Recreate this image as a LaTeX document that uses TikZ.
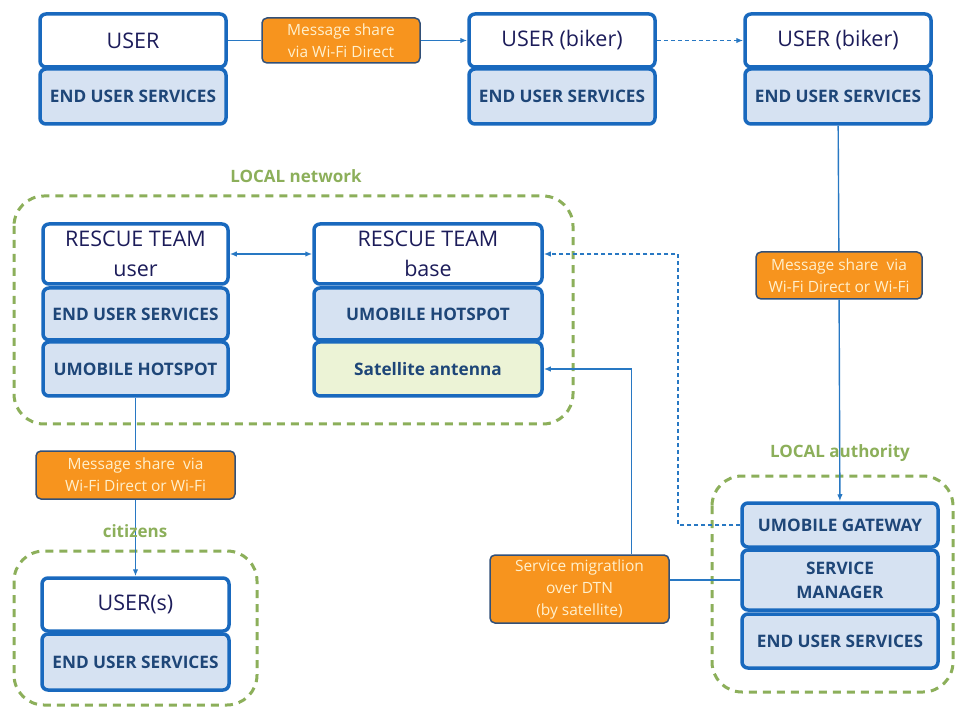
\documentclass[tikz,border=0pt]{standalone}
\usepackage{fontspec}
\setmainfont{Open Sans}
\usetikzlibrary{arrows.meta,positioning}
\definecolor{umblue}{RGB}{25,105,190}
\definecolor{umlink}{RGB}{40,120,195}
\definecolor{umnavy}{RGB}{28,28,90}
\definecolor{umtext}{RGB}{30,70,120}
\definecolor{softblue}{RGB}{214,226,242}
\definecolor{softlime}{RGB}{236,243,214}
\definecolor{umorange}{RGB}{247,148,30}
\definecolor{msgedge}{RGB}{50,80,120}
\definecolor{msgtext}{RGB}{255,240,205}
\definecolor{zonegreen}{RGB}{140,175,90}
\tikzset{
  >={Latex[length=7pt,width=5.5pt]},
  link/.style={->, line width=1.4pt, draw=umlink},
  dotlink/.style={link, line width=1.7pt, dash pattern=on 4pt off 3pt},
  box/.style={
    draw=umblue,
    line width=3.5pt,
    rounded corners=6pt,
    fill=white,
    align=center,
    inner sep=2pt,
    text=umnavy,
    font=\fontsize{21.5}{30}\selectfont
  },
  servbox/.style={box, fill=softblue, text=umtext, font=\bfseries\fontsize{17.2}{24}\selectfont},
  satbox/.style={servbox, fill=softlime},
  msgbox/.style={
    draw=msgedge,
    line width=1.5pt,
    rounded corners=5pt,
    fill=umorange,
    text=msgtext,
    align=center,
    inner sep=2pt,
    font=\fontsize{15.5}{22}\selectfont
  },
  zone/.style={draw=zonegreen, line width=3pt, dash pattern=on 8pt off 6pt, rounded corners=30pt},
  zonelabel/.style={text=zonegreen, font=\bfseries\fontsize{17}{20}\selectfont}
}

\begin{document}
\begin{tikzpicture}[x=1pt,y=-1pt]
\useasboundingbox (0,0) rectangle (956,708);
\draw[zone] (14,196) rectangle (573,424);
\draw[zone] (14,551) rectangle (257,705);
\draw[zone] (712,476) rectangle (953,692);
\foreach \n/\x/\t in {a/133/USER, b/562/USER (biker), c/838/USER (biker)}{
\node[box,minimum width=186pt,minimum height=53pt] (user\n) at (\x,40.5) {\t};
\node[servbox,minimum width=186pt,minimum height=55pt] (eus\n) at (\x,96.5) {END USER SERVICES};
}
\node[msgbox,minimum width=158pt,minimum height=45pt] (msgdirect) at (341,40.5) {Message share\\via Wi-Fi Direct};
\node[msgbox,minimum width=166pt,minimum height=47pt] (msgright) at (839,275.5) {Message share\ \ via\\Wi-Fi Direct or Wi-Fi};
\node[box,minimum width=185pt,minimum height=60pt] (rtuser) at (135.5,254) {RESCUE TEAM\\user};
\node[servbox,minimum width=185pt,minimum height=52pt] (rtueus) at (135.5,314) {END USER SERVICES};
\node[servbox,minimum width=185pt,minimum height=54pt] (rtuhot) at (135.5,369) {UMOBILE HOTSPOT};
\node[box,minimum width=228pt,minimum height=60pt] (rtbase) at (428,254) {RESCUE TEAM\\base};
\node[servbox,minimum width=228pt,minimum height=52pt] (rtbhot) at (428,314) {UMOBILE HOTSPOT};
\node[satbox,minimum width=228pt,minimum height=54pt] (sat) at (428,369) {Satellite antenna};
\node[msgbox,minimum width=199pt,minimum height=48pt] (msgleft) at (135.5,475) {Message share\ \ via\\Wi-Fi Direct or Wi-Fi};
\node[box,minimum width=187pt,minimum height=53pt] (users) at (135.5,604.5) {USER(s)};
\node[servbox,minimum width=187pt,minimum height=56pt] (userseus) at (135.5,662) {END USER SERVICES};
\node[servbox,minimum width=196pt,minimum height=44pt] (gateway) at (840,525) {UMOBILE GATEWAY};
\node[servbox,minimum width=196pt,minimum height=60pt] (manager) at (840,580) {SERVICE\\MANAGER};
\node[servbox,minimum width=196pt,minimum height=54pt] (laeus) at (840,641) {END USER SERVICES};
\node[msgbox,minimum width=179pt,minimum height=68pt] (migration) at (579.5,589) {Service migratlion\\over DTN\\(by satellite)};
\draw[link,-] (usera) -- (msgdirect);
\draw[link] (msgdirect) -- (userb);
\draw[dotlink] (userb) -- (userc);
\draw[link,-] (eusc) -- (msgright);
\draw[link] (msgright) -- (gateway);
\draw[link,<->] (rtuser) -- (rtbase);
\draw[dotlink] (gateway.west) -- ++(-62,0) |- (rtbase.east);
\draw[link] ([xshift=52pt]migration.north) |- (sat.east);
\draw[link,-] (manager.west) -- (manager.west -| migration.east);
\draw[link,-] (rtuhot) -- (msgleft);
\draw[link] (msgleft) -- (users);
\node[zonelabel] (lnlabel) at (296,176) {LOCAL network};
\node[zonelabel] (citlabel) at (135,531) {citizens};
\node[zonelabel] (lalabel) at (840,453) {LOCAL authority};
\end{tikzpicture}
\end{document}
